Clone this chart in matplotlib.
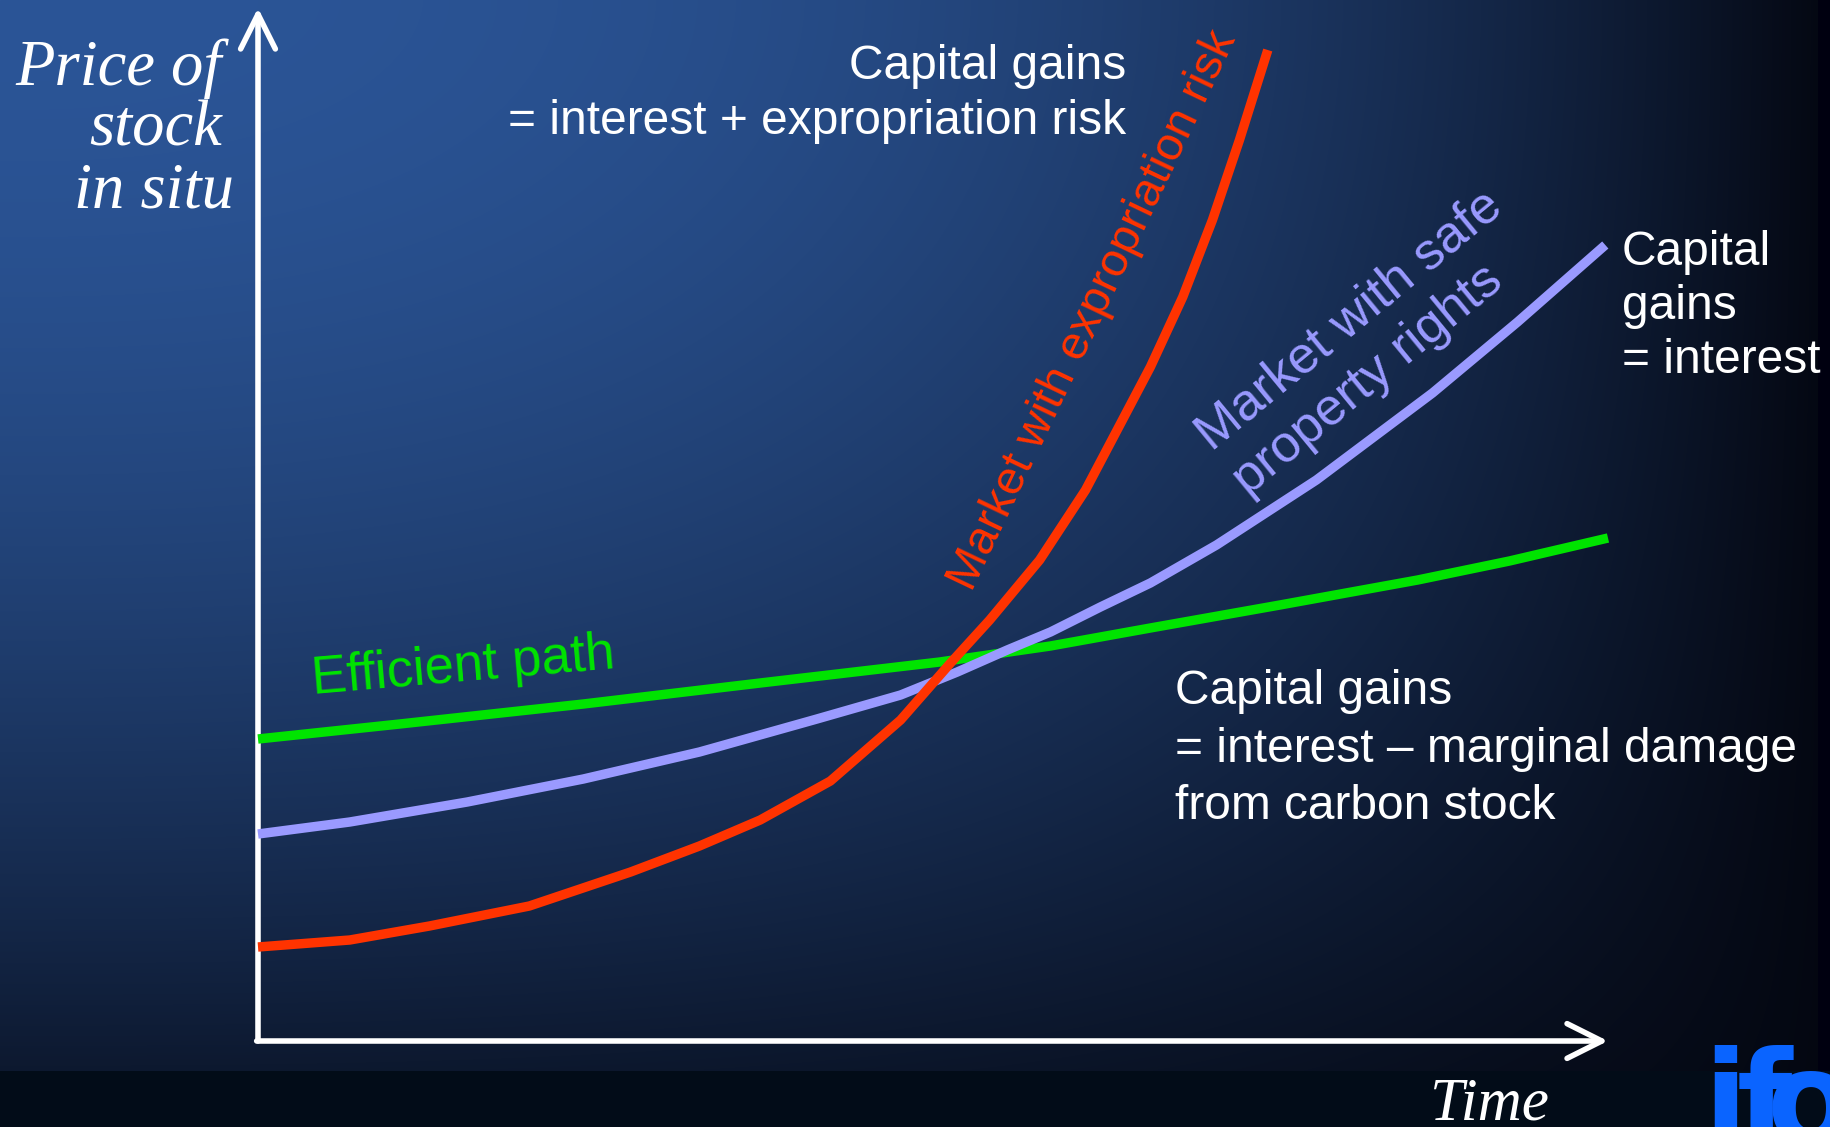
import numpy as np
import matplotlib
matplotlib.use("Agg")
import matplotlib.pyplot as plt
from matplotlib import transforms

# ---------------------------------------------------------------
# Price paths of the carbon stock in situ over time
# ---------------------------------------------------------------
efficient_time = [0.00, 1.05, 2.41, 3.72, 5.05, 5.87, 6.61, 7.57, 8.59, 9.27, 10.00]
efficient_price = [3.02, 3.17, 3.37, 3.58, 3.79, 3.95, 4.13, 4.36, 4.61, 4.80, 5.03]

safe_time = [0.00, 0.68, 1.55, 2.41, 3.27, 4.14, 4.76, 5.18, 5.55, 5.87, 6.24,
             6.61, 7.10, 7.84, 8.70, 9.33, 9.98]
safe_price = [2.07, 2.19, 2.39, 2.62, 2.89, 3.22, 3.46, 3.69, 3.91, 4.09, 4.34,
              4.58, 4.96, 5.61, 6.48, 7.19, 7.96]

risk_time = [0.00, 0.68, 1.27, 2.01, 2.76, 3.27, 3.72, 4.24, 4.76, 5.13, 5.42,
             5.79, 6.13, 6.61, 6.85, 7.07, 7.27, 7.48]
risk_price = [0.94, 1.01, 1.15, 1.35, 1.69, 1.95, 2.21, 2.60, 3.21, 3.78, 4.21,
              4.81, 5.51, 6.74, 7.44, 8.21, 9.01, 9.91]

series_labels = ["Efficient path", "Market with safe\nproperty rights", "Market with expropriation risk"]
note_risk = ["Capital gains", "= interest + expropriation risk"]
note_safe = ["Capital", "gains", "= interest"]
note_efficient = ["Capital gains", "= interest \u2013 marginal damage", "from carbon stock"]
y_title = ["Price of", "stock", "in situ"]
x_title = "Time"

GREEN = "#00e400"
LILAC = "#9a9aff"
RED = "#ff3300"
SANS = "Liberation Sans"
SERIF = "Liberation Serif"

W, H, DPI = 1830, 1127, 100
fig = plt.figure(figsize=(W / DPI, H / DPI), dpi=DPI)

# ---- slide background: blue fading towards the right and the bottom ----
bg = fig.add_axes([0, 0, 1, 1])
bg.set_axis_off()
u = np.linspace(0, 1, W)[None, :]
v = np.linspace(0, 1, H)[:, None]
shade = (1 - u ** 2.5) * (1 - 0.85 * v ** 1.8)
shade = np.clip(shade, 0, 1)[..., None]
c_top = np.array([43, 85, 151]) / 255
c_end = np.array([4, 7, 17]) / 255
img = c_end + (c_top - c_end) * shade
img[:, 1818:, :] = np.array([0, 0, 16]) / 255
img[1071:, :, :] = np.array([2, 12, 24]) / 255
bg.imshow(img, extent=[0, 1, 0, 1], aspect="auto", origin="upper",
          interpolation="bilinear")
bg.set_xlim(0, 1)
bg.set_ylim(0, 1)

# ---- diagram axes (origin at the corner of the two arrows) ----
x_left, x_right = 258, 1608
y_top, y_bottom = 8, 1041
ax = fig.add_axes([x_left / W, 1 - y_bottom / H,
                   (x_right - x_left) / W, (y_bottom - y_top) / H])
ax.set_xlim(0, 10)
ax.set_ylim(0, 10.33)
ax.set_axis_off()
ax.patch.set_visible(False)

arrow_kw = dict(arrowstyle="->,head_length=25,head_width=12.5", color="white",
                lw=4, mutation_scale=1, shrinkA=0, shrinkB=0,
                capstyle="round", joinstyle="round")
ax.annotate("", xy=(0, 10.33), xytext=(0, 0), arrowprops=arrow_kw,
            annotation_clip=False)
ax.annotate("", xy=(10, 0), xytext=(-0.01, 0), arrowprops=arrow_kw,
            annotation_clip=False)

for t, p, col in [(efficient_time, efficient_price, GREEN),
                  (safe_time, safe_price, LILAC),
                  (risk_time, risk_price, RED)]:
    ax.plot(t, p, color=col, lw=6.8, solid_capstyle="butt",
            solid_joinstyle="round", clip_on=False, zorder=3)


def stacked(x, y, lines, step_px, rotation=0.0, shifts=None, **kw):
    """Write lines one below the other, each baseline step_px further down.
    shifts moves single lines along their baseline (pixels)."""
    ang = np.deg2rad(rotation)
    shifts = shifts or [0] * len(lines)
    for i, line in enumerate(lines):
        dx = np.sin(ang) * step_px * i + np.cos(ang) * shifts[i]
        dy = -np.cos(ang) * step_px * i + np.sin(ang) * shifts[i]
        tr = transforms.offset_copy(ax.transData, fig=fig, x=dx, y=dy,
                                    units="dots")
        ax.text(x, y, line, transform=tr, rotation=rotation,
                rotation_mode="anchor", va="baseline", clip_on=False, **kw)


# axis titles
stacked(-0.27, 9.56, y_title, 61, shifts=[0, 0, 12], ha="right",
        color="white", family=SERIF, style="italic", fontsize=46.5)
stacked(8.68, -0.79, [x_title], 0, ha="left", color="white",
        family=SERIF, style="italic", fontsize=44)

# capital-gains notes
stacked(6.43, 9.62, note_risk, 55, ha="right", color="white",
        family=SANS, fontsize=34.5)
stacked(10.10, 7.76, note_safe, 54, ha="left", color="white",
        family=SANS, fontsize=34.5)
stacked(6.79, 3.37, note_efficient, 57.5, ha="left", color="white",
        family=SANS, fontsize=34.5)

# curve labels
stacked(0.41, 3.47, [series_labels[0]], 0, rotation=4.9, ha="left",
        color=GREEN, family=SANS, fontsize=38)
stacked(8.15, 7.10, series_labels[1].split("\n"), 58, rotation=39.5,
        shifts=[0, -24], ha="center", color=LILAC, family=SANS, fontsize=37.5)
stacked(5.29, 4.48, [series_labels[2]], 0, rotation=64.5, ha="left",
        color=RED, family=SANS, fontsize=34)

# ifo logo in the lower right corner
for ch, xpix in [("i", 1703), ("f", 1737), ("o", 1766)]:
    fig.text(xpix / W, 1 - 1143 / H, ch, color="#0a64ff", fontsize=92,
             fontweight="bold", family="DejaVu Sans", ha="left", va="baseline")

fig.savefig("out.png", dpi=DPI)
